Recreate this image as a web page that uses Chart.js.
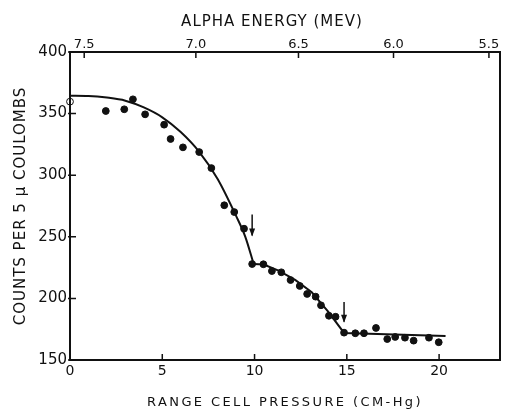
<!DOCTYPE html>
<html>
<head>
<meta charset="utf-8">
<script src="https://cdn.jsdelivr.net/npm/chart.js@4.4.0/dist/chart.umd.min.js"></script>
<style>
  html, body { margin: 0; padding: 0; background: #fff; }
</style>
</head>
<body>
<canvas id="chart" width="505" height="410"></canvas>
<script>
// measured points: range cell pressure (cm-Hg) vs counts per 5 uC
const pressure = [0, 1.94, 2.94, 3.41, 4.07, 5.10, 5.45, 6.12, 7.00, 7.66, 8.36, 8.90, 9.43,
    9.87, 10.48, 10.94, 11.45, 11.95, 12.45, 12.85, 13.31, 13.60, 14.03, 14.39,
    14.85, 15.46, 15.93, 16.58, 17.19, 17.62, 18.15, 18.62, 19.45, 19.98];
const counts = [359.7, 352.1, 353.5, 361.6, 349.4, 341.0, 329.4, 322.6, 318.8, 305.8, 275.6, 270.1, 256.6,
    227.9, 227.7, 222.2, 221.2, 214.9, 210.1, 203.6, 201.4, 194.4, 185.9, 185.1,
    172.2, 171.7, 171.7, 176.0, 167.0, 168.7, 168.1, 165.7, 168.1, 164.4];

// drawn curve: smooth part up to the first break, then straight pieces
const curvePressure = [0, 1, 2, 3, 4, 5, 6, 7, 8, 9, 9.5, 9.95];
const curveCounts = [364.5, 364.3, 363, 360.5, 355, 347, 335, 319, 297, 267, 250, 228];
const linePressure = [9.95, 10.5, 11.3, 12.2, 13.1, 14.0, 14.85, 20.35];
const lineCounts = [228, 227.5, 222.5, 215, 205, 189, 172, 169.5];

// the two down arrows marking the breaks
const arrowPressure = [9.87, 14.85];
const arrowTop = [268, 197];
const arrowBottom = [251, 181];

// axes
const pressureTicks = [0, 5, 10, 15, 20];
const countTicks = [150, 200, 250, 300, 350, 400];
const energyLabels = ['7.5', '7.0', '6.5', '6.0', '5.5'];
const energyAtPressure = [0.77, 6.82, 12.38, 17.53, 22.70];

const ink = '#111';
const family = "'DejaVu Sans', sans-serif";

// box, inward tick marks, arrows and axis titles
const decorations = {
    id: 'decorations',
    afterDraw(chart) {
        const { ctx, chartArea: a, scales } = chart;
        ctx.save();
        ctx.strokeStyle = ink;
        ctx.fillStyle = ink;
        ctx.lineWidth = 2;
        ctx.strokeRect(a.left, a.top, a.right - a.left, a.bottom - a.top);

        ctx.lineWidth = 1.5;
        ctx.beginPath();
        scales.x.ticks.forEach(t => {
            const px = scales.x.getPixelForValue(t.value);
            ctx.moveTo(px, a.bottom);
            ctx.lineTo(px, a.bottom - 6);
        });
        scales.x2.ticks.forEach(t => {
            const px = scales.x2.getPixelForValue(t.value);
            ctx.moveTo(px, a.top);
            ctx.lineTo(px, a.top + 6);
        });
        scales.y.ticks.forEach(t => {
            const py = scales.y.getPixelForValue(t.value);
            ctx.moveTo(a.left - 2, py);
            ctx.lineTo(a.left + 6, py);
        });
        ctx.stroke();

        // arrows
        arrowPressure.forEach((p, i) => {
            const px = scales.x.getPixelForValue(p);
            const y1 = scales.y.getPixelForValue(arrowTop[i]);
            const y2 = scales.y.getPixelForValue(arrowBottom[i]);
            ctx.beginPath();
            ctx.moveTo(px, y1);
            ctx.lineTo(px, y2);
            ctx.stroke();
            ctx.beginPath();
            ctx.moveTo(px, y2 + 1);
            ctx.lineTo(px - 3, y2 - 7);
            ctx.lineTo(px + 3, y2 - 7);
            ctx.closePath();
            ctx.fill();
        });

        // titles
        const cx = (a.left + a.right) / 2;
        ctx.textAlign = 'center';
        ctx.textBaseline = 'middle';
        ctx.font = `15px ${family}`;
        ctx.letterSpacing = '1px';
        ctx.fillText('ALPHA ENERGY (MEV)', cx - 13, 22.5);

        ctx.font = `13px ${family}`;
        ctx.letterSpacing = '2.4px';
        ctx.fillText('RANGE CELL PRESSURE (CM-Hg)', cx, 402.5);

        ctx.save();
        ctx.translate(21.5, (a.top + a.bottom) / 2);
        ctx.rotate(-Math.PI / 2);
        ctx.font = `15px ${family}`;
        ctx.letterSpacing = '1px';
        ctx.fillText('COUNTS PER 5 \u03bc COULOMBS', 0, 0);
        ctx.restore();

        ctx.restore();
    }
};

const xMax = 23.3;

new Chart(document.getElementById('chart'), {
    type: 'scatter',
    data: {
        datasets: [
            {
                label: 'counts',
                data: pressure.map((x, i) => ({ x, y: counts[i] })),
                showLine: false,
                pointRadius: 3.4,
                pointBorderWidth: 1,
                pointBorderColor: ink,
                pointBackgroundColor: pressure.map((x, i) => i === 0 ? '#fff' : ink),
                clip: false,
            },
            {
                label: 'curve',
                data: curvePressure.map((x, i) => ({ x, y: curveCounts[i] })),
                showLine: true,
                pointRadius: 0,
                borderColor: ink,
                borderWidth: 2,
                cubicInterpolationMode: 'monotone',
                clip: false,
            },
            {
                label: 'line',
                data: linePressure.map((x, i) => ({ x, y: lineCounts[i] })),
                showLine: true,
                pointRadius: 0,
                borderColor: ink,
                borderWidth: 2,
                tension: 0,
                clip: false,
            },
        ],
    },
    options: {
        responsive: false,
        animation: false,
        layout: { padding: { top: 0, right: 2, bottom: 0, left: 0 } },
        plugins: {
            legend: { display: false },
            tooltip: { enabled: false },
        },
        scales: {
            x: {
                type: 'linear',
                position: 'bottom',
                min: 0,
                max: xMax,
                afterBuildTicks: s => { s.ticks = pressureTicks.map(v => ({ value: v })); },
                afterFit: s => { s.height = 50; },
                grid: { display: false, drawTicks: false },
                border: { display: false },
                ticks: { color: ink, padding: 3, font: { family, size: 14 } },
            },
            x2: {
                type: 'linear',
                position: 'top',
                min: 0,
                max: xMax,
                afterBuildTicks: s => { s.ticks = energyAtPressure.map(v => ({ value: v })); },
                afterFit: s => { s.height = 52; },
                grid: { display: false, drawTicks: false },
                border: { display: false },
                ticks: {
                    color: ink,
                    padding: 0,
                    font: { family, size: 13 },
                    callback: (v, i) => energyLabels[i],
                },
            },
            y: {
                type: 'linear',
                min: 150,
                max: 400,
                afterBuildTicks: s => { s.ticks = countTicks.map(v => ({ value: v })); },
                afterFit: s => { s.width = 70; },
                grid: { display: false, drawTicks: false },
                border: { display: false },
                ticks: { color: ink, padding: 3, font: { family, size: 15 } },
            },
        },
    },
    plugins: [decorations],
});
</script>
</body>
</html>
